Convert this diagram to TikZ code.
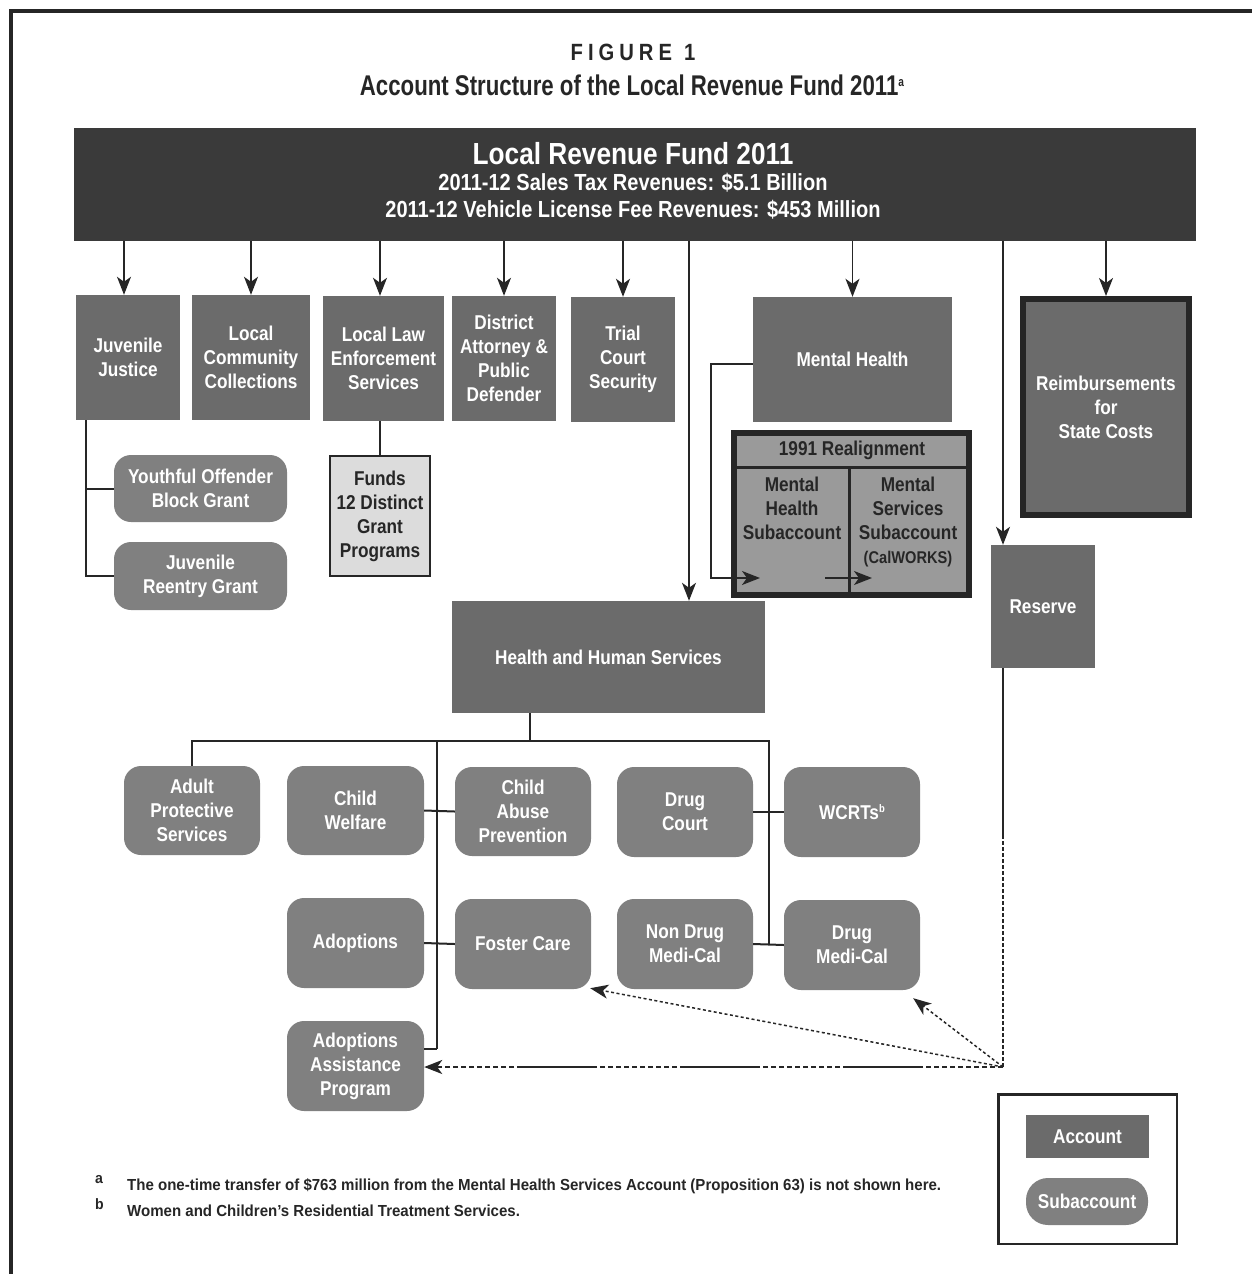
\documentclass[tikz,border=0pt]{standalone}
\usepackage{fontspec}
\setmainfont{Liberation Sans}[FakeStretch=0.86]
\newfontfamily\ttlfont{Liberation Sans}[FakeStretch=0.78]
\newfontfamily\fnfont{Liberation Sans}[FakeStretch=0.94]
\usetikzlibrary{arrows.meta}
\definecolor{hdr}{HTML}{3A3A3A}
\definecolor{acc}{HTML}{6B6B6B}
\definecolor{subc}{HTML}{808080}
\definecolor{rea}{HTML}{9A9A9A}
\definecolor{lite}{HTML}{DCDCDC}
\definecolor{ink}{HTML}{262626}
\newcommand\bxf{\fontsize{20}{24}\selectfont\bfseries}
\tikzset{
  accbox/.style={fill=acc, text=white, inner sep=0pt, align=center, font=\bxf},
  subbox/.style={fill=subc, rounded corners=17pt, text=white, inner sep=0pt, align=center, font=\bxf},
  rtext/.style={text=ink, inner sep=0pt, align=center, font=\bxf},
  conn/.style={draw=ink, line width=2pt},
  tip/.style={-{Stealth[length=18pt,width=14pt,inset=5pt]}},
  arr/.style={draw=ink, line width=1.6pt, tip},
  dotarr/.style={draw=ink, line width=1.5pt, dash pattern=on 3pt off 2.5pt, tip},
  mixarr/.style={draw=ink, line width=2pt, tip, dash pattern=on 5pt off 3pt on 5pt off 3pt on 5pt off 3pt on 5pt off 3pt on 5pt off 3pt on 5pt off 3pt on 5pt off 3pt on 5pt off 3pt on 5pt off 3pt on 5pt off 3pt on 80pt off 3pt},
  fnote/.style={text=ink, inner sep=0pt, anchor=base west, font=\fnfont\fontsize{16}{18}\selectfont\bfseries},
  fmark/.style={text=ink, inner sep=0pt, anchor=base west, font=\fnfont\fontsize{15}{16}\selectfont\bfseries}
}
\begin{document}
\begin{tikzpicture}[x=1pt,y=-1pt]
\useasboundingbox (0,0) rectangle (1252,1274);
% frame
\draw[ink, line width=3.5pt] (11,1280) -- (11,11) -- (1260,11);
% titles
\node[anchor=base, text=ink, inner sep=0pt, font=\fontsize{23.5}{26}\selectfont\bfseries] (fig) at (633,60)
  {F\kern5pt I\kern5pt G\kern5pt U\kern5pt R\kern5pt E\kern12pt 1};
\node[anchor=base, text=ink, inner sep=0pt, font=\ttlfont\fontsize{28.5}{30}\selectfont\bfseries] (ttl) at (632,95)
  {Account Structure of the Local Revenue Fund 2011\raisebox{9pt}{\fontsize{13}{13}\selectfont a}};
% header
\node[fill=hdr, minimum width=1122pt, minimum height=113pt, inner sep=0pt] (lrf) at (635,184.5) {};
\node[anchor=base, text=white, inner sep=0pt, font=\fontsize{30.5}{34}\selectfont\bfseries] (lrft) at (633,164) {Local Revenue Fund 2011};
\node[anchor=base, text=white, inner sep=0pt, font=\fontsize{23.3}{24}\selectfont\bfseries] (lrfa) at (633,190) {2011-12 Sales Tax Revenues: \$5.1 Billion};
\node[anchor=base, text=white, inner sep=0pt, font=\fontsize{23.3}{24}\selectfont\bfseries] (lrfb) at (633,217) {2011-12 Vehicle License Fee Revenues: \$453 Million};
% accounts row
\node[accbox, minimum width=104pt, minimum height=125pt] (jj) at (128,357.5) {Juvenile\\Justice};
\node[accbox, minimum width=118pt, minimum height=125pt] (lcc) at (251,357.5) {Local\\Community\\Collections};
\node[accbox, minimum width=121pt, minimum height=125pt] (lle) at (383.5,358.5) {Local Law\\Enforcement\\Services};
\node[accbox, minimum width=104pt, minimum height=125pt] (da) at (504,358.5) {District\\Attorney \&\\Public\\Defender};
\node[accbox, minimum width=104pt, minimum height=125pt] (tcs) at (623,359.5) {Trial\\Court\\Security};
\node[accbox, minimum width=199pt, minimum height=125pt] (mh) at (852.5,359.5) {Mental Health};
\node[accbox, draw=ink, line width=6pt, minimum width=166pt, minimum height=216pt] (reimb) at (1106,407) {Reimbursements\\for\\State Costs};
\node[accbox, minimum width=104pt, minimum height=123pt] (reserve) at (1043,606.5) {Reserve};
\node[accbox, minimum width=313pt, minimum height=112pt] (hhs) at (608.5,657) {Health and Human Services};
% juvenile subaccounts
\node[subbox, minimum width=173pt, minimum height=67pt] (yobg) at (200.5,488.5) {Youthful Offender\\Block Grant};
\node[subbox, minimum width=173pt, minimum height=68pt] (jrg) at (200.5,576) {Juvenile\\Reentry Grant};
\node[rtext, fill=lite, draw=ink, line width=2pt, minimum width=100pt, minimum height=120pt] (funds) at (380,516) {Funds\\12 Distinct\\Grant\\Programs};
% 1991 realignment
\node[fill=rea, draw=ink, line width=6pt, minimum width=235pt, minimum height=162pt, inner sep=0pt] (real) at (851.5,514) {};
\draw[ink, line width=3pt] (737,467) -- (966,467);
\draw[ink, line width=3pt] (849,467) -- (849,592);
\node[rtext] (rhead) at (852,450) {1991 Realignment};
\node[rtext, anchor=north] (mhsub) at (792,477) {Mental\\Health\\Subaccount};
\node[rtext, anchor=north] (mssub) at (908,477) {Mental\\Services\\Subaccount\\{\fontsize{17}{24}\selectfont(CalWORKS)}};
% HHS subaccounts
\node[subbox, minimum width=136pt, minimum height=89pt] (aps) at (192,810.5) {Adult\\Protective\\Services};
\node[subbox, minimum width=137pt, minimum height=89pt] (cw) at (355.5,810.5) {Child\\Welfare};
\node[subbox, minimum width=136pt, minimum height=89pt] (cap) at (523,811.5) {Child\\Abuse\\Prevention};
\node[subbox, minimum width=136pt, minimum height=90pt] (dc) at (685,812) {Drug\\Court};
\node[subbox, minimum width=136pt, minimum height=90pt] (wcrt) at (852,812) {WCRTs\raisebox{7pt}{\fontsize{11}{11}\selectfont b}};
\node[subbox, minimum width=137pt, minimum height=90pt] (adopt) at (355.5,943) {Adoptions};
\node[subbox, minimum width=136pt, minimum height=90pt] (foster) at (523,944) {Foster Care};
\node[subbox, minimum width=136pt, minimum height=90pt] (ndmc) at (685,944) {Non Drug\\Medi-Cal};
\node[subbox, minimum width=136pt, minimum height=90pt] (dmc) at (852,945) {Drug\\Medi-Cal};
\node[subbox, minimum width=137pt, minimum height=90pt] (aap) at (355.5,1066) {Adoptions\\Assistance\\Program};
% legend
\node[draw=ink, line width=2.5pt, fill=white, minimum width=178.5pt, minimum height=149.5pt, inner sep=0pt] (leg) at (1087.5,1169) {};
\node[accbox, minimum width=123pt, minimum height=43pt] (legacc) at (1087.5,1136.5) {Account};
\node[subbox, rounded corners=22pt, minimum width=122pt, minimum height=47pt] (legsub) at (1087,1201.5) {Subaccount};
% footnotes
\node[fmark] (fna) at (95,1183) {a};
\node[fnote] (fnat) at (127,1190) {The one-time transfer of \$763 million from the Mental Health Services Account (Proposition 63) is not shown here.};
\node[fmark] (fnb) at (95,1209) {b};
\node[fnote] (fnbt) at (127,1216) {Women and Children’s Residential Treatment Services.};
% coordinates
\coordinate (hx) at (689,0);
\coordinate (rb) at (1003,1067);
\coordinate (resx) at (1003,835);
\coordinate (mhjog) at (711,578);
\coordinate (mhtip) at (760,578);
\coordinate (a2s) at (825,578);
\coordinate (a2e) at (872,578);
\coordinate (jjb) at (86,576);
\coordinate (tM) at (530,741);
\coordinate (tR) at (769,741);
\coordinate (v1t) at (437,741);
\coordinate (v1b) at (437,1049);
\coordinate (v2b) at (769,944);
% arrows from header
\draw[arr] ([xshift=-4pt]jj.north |- lrf.south) -- ([xshift=-4pt]jj.north);
\draw[arr] (lcc.north |- lrf.south) -- (lcc.north);
\draw[arr] ([xshift=-3.5pt]lle.north |- lrf.south) -- ([xshift=-3.5pt]lle.north);
\draw[arr] (da.north |- lrf.south) -- (da.north);
\draw[arr] (tcs.north |- lrf.south) -- (tcs.north);
\draw[arr] (mh.north |- lrf.south) -- (mh.north);
\draw[arr] (reimb.north |- lrf.south) -- (reimb.north);
\draw[arr] (lrf.south -| hx) -- (hhs.north -| hx);
\draw[arr] (lrf.south -| rb) -- (reserve.north -| rb);
% juvenile tree
\draw[conn] (jj.south -| jjb) -- (jjb) -- (jrg.west);
\draw[conn] (yobg.west -| jjb) -- (yobg.west);
\draw[conn] (lle.south -| funds.north) -- (funds.north);
% mental health
\draw[arr] ([yshift=-4.5pt]mh.west) -| (mhjog) -- (mhtip);
\draw[arr] (a2s) -- (a2e);
% HHS tree
\draw[conn] (tM |- hhs.south) -- (tM);
\draw[conn] (aps.north) |- (tR) -- (v2b);
\draw[conn] (v1t) -- (v1b);
\draw[conn] (cw.east) -- (cap.west);
\draw[conn] (adopt.east) -- (foster.west);
\draw[conn] ([yshift=17pt]aap.east) -- (v1b);
\draw[conn] (dc.east) -- (wcrt.west);
\draw[conn] (ndmc.east) -- (dmc.west);
% reserve transfers
\draw[conn] (reserve.south -| rb) -- (resx);
\draw[draw=ink, line width=2pt, dash pattern=on 4pt off 2pt] (resx) -- (rb);
\draw[mixarr] (rb) -- (aap.east |- rb);
\draw[dotarr] (rb) -- ([xshift=-1pt,yshift=1pt]foster.south east);
\draw[dotarr] (rb) -- ([xshift=-7pt,yshift=-8pt]dmc.south east);
\end{tikzpicture}
\end{document}
